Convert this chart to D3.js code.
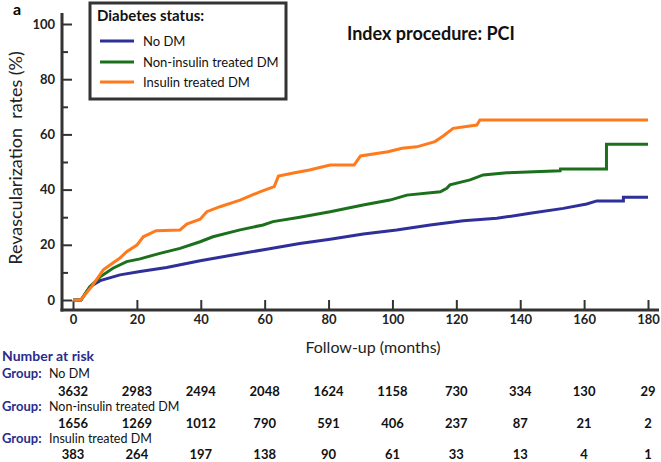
<!DOCTYPE html>
<meta charset="utf-8">
<head>
    <title>Revascularization rates by diabetes status</title>
</head>
<style>
body { margin: 0; background: #fff; }
text { font-family: Lato, "Open Sans", sans-serif; }
</style>

<script src="https://d3js.org/d3.v7.min.js"></script>

<div id="chart"></div>

<script>
// groups and colours
var groups = ["No DM", "Non-insulin treated DM", "Insulin treated DM"];
var colors = ["#2f2f9a", "#1c701c", "#ff7a1c"];

// x ticks (months) and numbers at risk at each tick
var monthTicks = [0, 20, 40, 60, 80, 100, 120, 140, 160, 180];
var riskNoDM = [3632, 2983, 2494, 2048, 1624, 1158, 730, 334, 130, 29];
var riskNonInsulin = [1656, 1269, 1012, 790, 591, 406, 237, 87, 21, 2];
var riskInsulin = [383, 264, 197, 138, 90, 61, 33, 13, 4, 1];

// y ticks
var pctTicks = [0, 20, 40, 60, 80, 100];
var pctMinor = [10, 30, 50, 70, 90];

// curves: [month, %]
var curveNoDM = [[0,0],[2.5,0],[5.3,4.8],[8.5,7],[14.7,9.1],[21,10.3],[29.3,11.8],[39.8,14.2],
  [50,16.3],[60.6,18.4],[71,20.5],[80.5,22],[90.9,23.9],[101.3,25.4],[111.8,27.2],[122.2,28.7],
  [132.7,29.6],[143.1,31.4],[153.5,33.2],[160.8,34.8],[164,35.9],[172.3,35.9],[172.3,37.2],[180,37.2]];
var curveNonInsulin = [[0,0],[2.5,0],[5.3,4.8],[8.5,8.4],[12.5,11.5],[16.8,13.9],[21,14.9],[27.2,16.9],
  [33.5,18.7],[39.8,21.1],[43.8,22.9],[52.3,25.4],[59.5,27.2],[62.6,28.4],[71,30],[80.5,32],
  [90.8,34.4],[99.2,36.2],[104.5,38],[115,39.2],[117,40.5],[118,41.7],[124.3,43.5],[128.4,45.3],
  [135.8,46.1],[152.5,46.8],[152.6,47.5],[167,47.5],[167,56.4],[180,56.4]];
var curveInsulin = [[0,0],[2.4,0],[6,5.1],[9.5,10.9],[11.6,12.7],[14.7,15.2],[16.8,17.5],[20,19.9],
  [22,22.9],[26,25.1],[33.5,25.4],[35.6,27.5],[39.8,29.3],[41.9,32],[46,33.8],[52.3,36.2],
  [58.5,39.2],[63,41.1],[64.3,44.9],[69,46],[74,47.1],[80.5,48.9],[88,48.9],[90,52.2],
  [98.6,53.7],[103,55],[107.6,55.5],[113.3,57.4],[115.9,59.4],[119,62.2],[126.4,63.4],
  [127.4,65.2],[180,65.2]];

var curves = [curveNoDM, curveNonInsulin, curveInsulin];
var risks = [riskNoDM, riskNonInsulin, riskInsulin];

var width = 661, height = 462;
var axisX = 62, axisY = 310;
var navy = "#2b2b8c";

var svg = d3.select("#chart")
  .append("svg")
    .attr("width", width)
    .attr("height", height);

var x = d3.scaleLinear().domain([0, 180]).range([73, 648]);
var y = d3.scaleLinear().domain([0, 100]).range([300, 24]);

// Y axis (ticks point inward)
var gy = svg.append("g")
    .attr("transform", "translate(" + axisX + ",0)")
    .call(d3.axisLeft(y).tickValues(pctTicks).tickSize(-10).tickPadding(7));
gy.select(".domain").remove();
gy.selectAll("line").attr("stroke", "#333").attr("stroke-width", 2);
gy.selectAll("text")
    .style("font-size", "13px").style("font-weight", "bold").attr("fill", "#222");

svg.append("g")
    .attr("transform", "translate(" + axisX + ",0)")
    .call(d3.axisRight(y).tickValues(pctMinor).tickSize(6).tickFormat(""))
    .call(function(g) { g.select(".domain").remove(); })
    .selectAll("line").attr("stroke", "#333").attr("stroke-width", 2);

// X axis (ticks point upward)
var gx = svg.append("g")
    .attr("transform", "translate(0," + axisY + ")")
    .call(d3.axisBottom(x).tickValues(monthTicks).tickSize(-10).tickPadding(5));
gx.select(".domain").remove();
gx.selectAll("line").attr("stroke", "#333").attr("stroke-width", 2);
gx.selectAll("text")
    .style("font-size", "13px").style("font-weight", "bold").attr("fill", "#222");

// axis lines
svg.append("line")
    .attr("x1", axisX).attr("x2", axisX).attr("y1", 13).attr("y2", axisY + 1.5)
    .attr("stroke", "#333").attr("stroke-width", 3);
svg.append("line")
    .attr("x1", axisX - 1.5).attr("x2", 659).attr("y1", axisY).attr("y2", axisY)
    .attr("stroke", "#333").attr("stroke-width", 3);

// curves
var line = d3.line()
    .x(function(d) { return x(d[0]); })
    .y(function(d) { return y(d[1]); });

svg.selectAll(".curve")
    .data(curves)
    .enter()
    .append("path")
    .attr("class", "curve")
    .attr("d", line)
    .attr("fill", "none")
    .attr("stroke", function(d, i) { return colors[i]; })
    .attr("stroke-width", 3);

// axis titles
svg.append("text")
    .attr("transform", "translate(22,158)rotate(-90)")
    .attr("text-anchor", "middle")
    .style("font-size", "18px")
    .attr("fill", "#222")
    .attr("xml:space", "preserve")
    .text("Revascularization  rates (%)");

svg.append("text")
    .attr("x", 373).attr("y", 353)
    .attr("text-anchor", "middle")
    .style("font-size", "16px")
    .attr("fill", "#222")
    .text("Follow-up (months)");

svg.append("text")
    .attr("x", 13).attr("y", 15)
    .style("font-size", "16px").style("font-weight", "bold")
    .text("a");

svg.append("text")
    .attr("x", 347).attr("y", 40)
    .style("font-size", "18px").style("font-weight", "bold")
    .attr("fill", "#111")
    .text("Index procedure: PCI");

// legend
var legend = svg.append("g");
legend.append("rect")
    .attr("x", 90).attr("y", 3).attr("width", 196).attr("height", 96)
    .attr("fill", "#fff").attr("stroke", "#333").attr("stroke-width", 3);
legend.append("text")
    .attr("x", 97).attr("y", 21)
    .style("font-size", "15px").style("font-weight", "bold")
    .attr("fill", "#111")
    .text("Diabetes status:");
var legendY = [41, 62, 82];
groups.forEach(function(g, i) {
  legend.append("line")
    .attr("x1", 100).attr("x2", 134).attr("y1", legendY[i]).attr("y2", legendY[i])
    .attr("stroke", colors[i]).attr("stroke-width", 3);
  legend.append("text")
    .attr("x", 143).attr("y", legendY[i] + 5)
    .style("font-size", "13px")
    .attr("fill", "#111")
    .text(g);
});

// number at risk table
svg.append("text")
    .attr("x", 2).attr("y", 361)
    .style("font-size", "14px").style("font-weight", "bold")
    .attr("fill", navy)
    .text("Number at risk");

var groupY = [378, 411, 443];
var numY = [396, 428, 459];
groups.forEach(function(g, i) {
  svg.append("text")
    .attr("x", 2).attr("y", groupY[i])
    .style("font-size", "13px").style("font-weight", "bold")
    .attr("fill", navy)
    .text("Group:");
  svg.append("text")
    .attr("x", 49).attr("y", groupY[i])
    .style("font-size", "12.5px")
    .attr("fill", "#111")
    .text(g);

  svg.selectAll(".risk" + i)
    .data(risks[i])
    .enter()
    .append("text")
    .attr("x", function(d, j) { return x(monthTicks[j]); })
    .attr("y", numY[i])
    .attr("text-anchor", "middle")
    .style("font-size", "13px").style("font-weight", "bold")
    .attr("fill", "#111")
    .text(function(d) { return d; });
});
</script>
